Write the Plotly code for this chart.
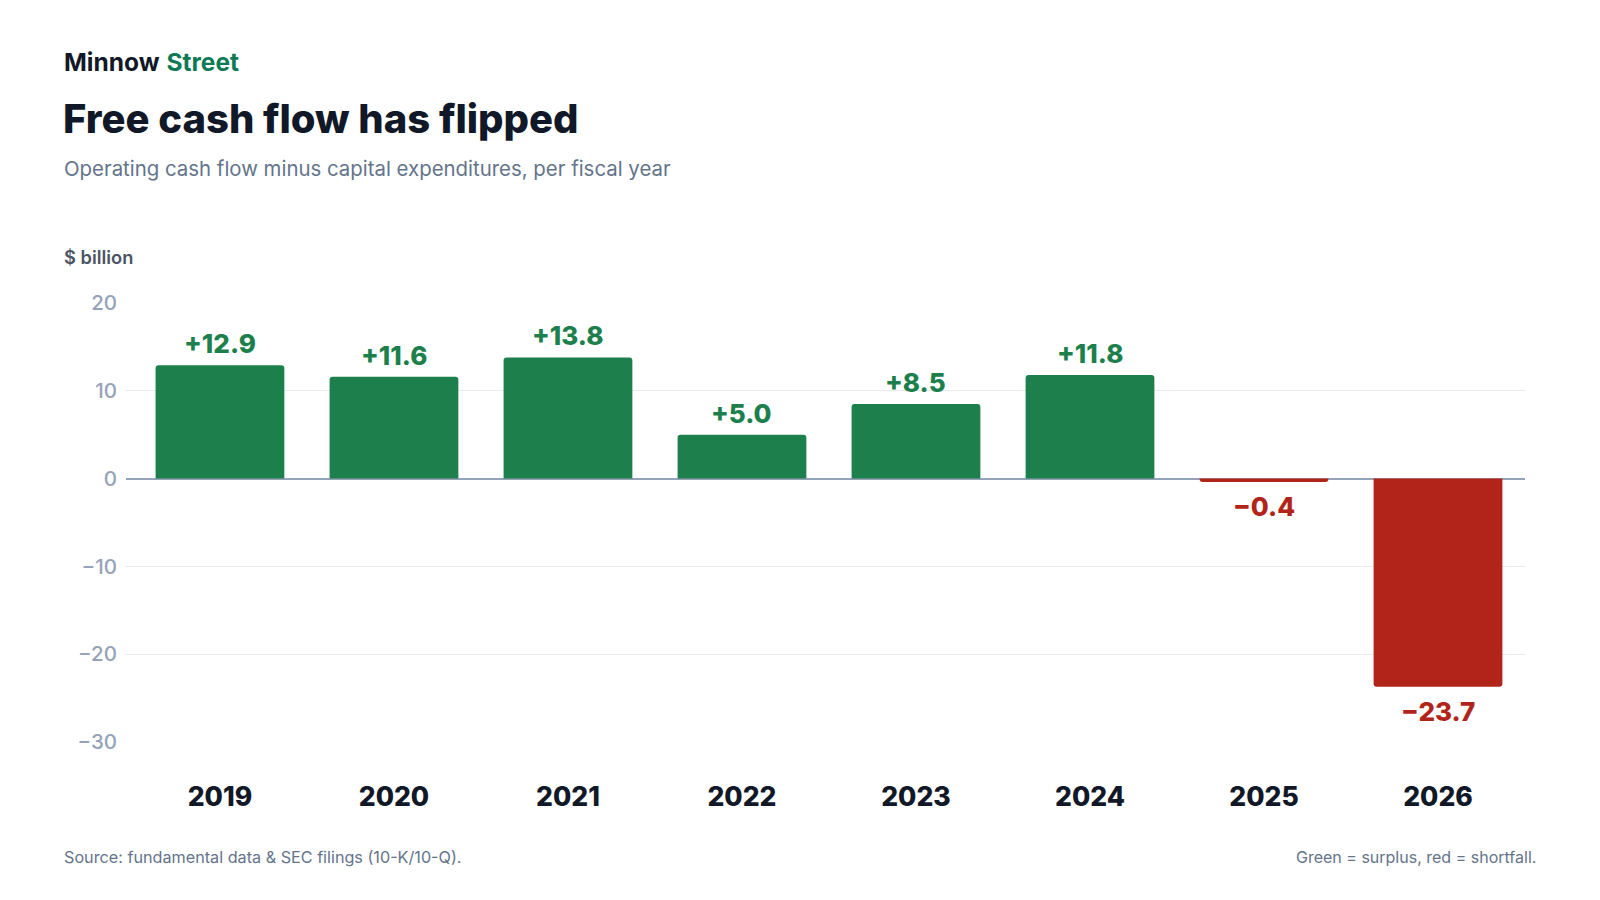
import plotly.graph_objects as go

years = ["2019", "2020", "2021", "2022", "2023", "2024", "2025", "2026"]
fcf = [12.9, 11.6, 13.8, 5.0, 8.5, 11.8, -0.4, -23.7]
y_ticks = [-30, -20, -10, 0, 10, 20]

GREEN = "#1c7f4c"
RED = "#b22419"
colors = [GREEN if v >= 0 else RED for v in fcf]
labels = [("+" if v >= 0 else "\u2212") + f"{abs(v):.1f}" for v in fcf]

W, H = 1600, 900
ML, MR, MT, MB = 126, 75, 303, 158
PW, PH = W - ML - MR, H - MT - MB

def px(x):
    return (x - ML) / PW

def py(y):
    return (H - MB - y) / PH

fig = go.Figure()
fig.add_trace(go.Bar(
    x=years, y=fcf,
    marker=dict(color=colors, cornerradius=3, line=dict(width=0)),
    width=0.74,
    hoverinfo="skip",
))

annotations = [
    dict(text="<b>Minnow</b> <b><span style='color:#0e7a55'>Street</span></b>",
         x=px(62), y=py(62), font=dict(family="Inter", size=24.5, color="#111827")),
    dict(text="Free cash flow has flipped",
         x=px(61), y=py(118), font=dict(family="Inter", size=40, color="#111827", weight=800)),
    dict(text="Operating cash flow minus capital expenditures, per fiscal year",
         x=px(62), y=py(168), font=dict(family="Inter", size=20.4, color="#64748b")),
    dict(text="$ billion",
         x=px(62), y=py(257), font=dict(family="Inter", size=18.3, color="#4b5563", weight=600)),
    dict(text="Source: fundamental data & SEC filings (10-K/10-Q).",
         x=px(62), y=py(857), font=dict(family="Inter", size=16.2, color="#64748b")),
]
for a in annotations:
    a.update(xref="paper", yref="paper", xanchor="left", yanchor="middle", showarrow=False)
annotations.append(dict(text="Green = surplus, red = shortfall.",
                        x=px(1538), y=py(857), xref="paper", yref="paper",
                        xanchor="right", yanchor="middle", showarrow=False,
                        font=dict(family="Inter", size=16, color="#64748b")))

for i, (v, lab, c) in enumerate(zip(fcf, labels, colors)):
    annotations.append(dict(
        text=lab, x=i, y=v, xref="x", yref="y",
        xanchor="center", yanchor="middle", showarrow=False,
        yshift=21.5 if v >= 0 else -24.5,
        font=dict(family="Inter", size=26, color=c, weight=800),
    ))

fig.update_layout(
    width=W, height=H,
    margin=dict(l=ML, r=MR, t=MT, b=MB),
    paper_bgcolor="white", plot_bgcolor="white",
    showlegend=False,
    font=dict(family="Inter"),
    annotations=annotations,
    xaxis=dict(
        type="category",
        range=[-0.54, 7.5],
        showgrid=False, zeroline=False, showline=False, ticks="",
        tickfont=dict(family="Inter", size=26.5, color="#111827", weight=800),
        ticklabelstandoff=36,
        fixedrange=True,
    ),
    yaxis=dict(
        range=[-30, 20],
        tickvals=y_ticks,
        showgrid=True, gridcolor="#e8ebef", gridwidth=1,
        zeroline=True, zerolinecolor="#94a3b8", zerolinewidth=1.5,
        showline=False, ticks="",
        tickfont=dict(family="Inter", size=20.5, color="#94a3b8", weight=500),
        ticklabelstandoff=8,
        fixedrange=True,
    ),
    bargap=0.26,
)

fig.write_html(
    "out.html",
    config={"displayModeBar": False},
    post_script="document.body.style.margin='0';document.body.style.overflow='hidden';",
)
